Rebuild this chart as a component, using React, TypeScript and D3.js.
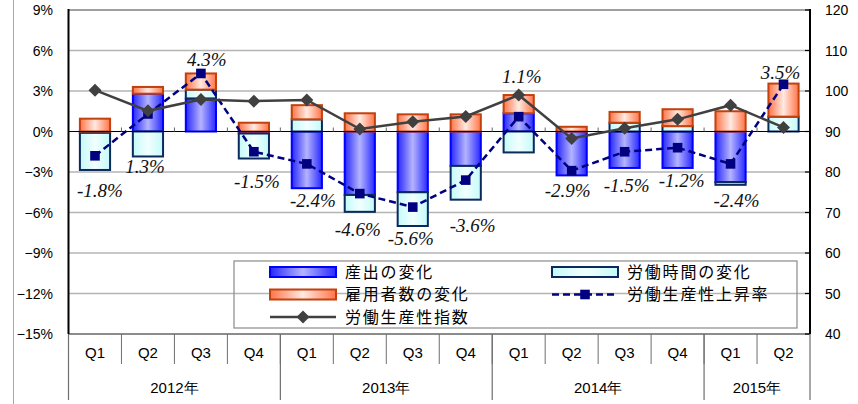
import React from "react";
import * as d3 from "d3";

// ---- data ----
const quarters = ["Q1", "Q2", "Q3", "Q4", "Q1", "Q2", "Q3", "Q4", "Q1", "Q2", "Q3", "Q4", "Q1", "Q2"];
const years = ["2012年", "2013年", "2014年", "2015年"];
const quartersPerYear = [4, 4, 4, 2];

const outputChange = [-0.1, 2.8, 2.45, -0.15, -4.2, -4.7, -4.5, -2.55, 1.35, -3.25, -2.7, -2.7, -3.75, 0];
const hoursChange = [-2.75, -1.85, 0.65, -1.85, 0.9, -1.25, -2.5, -2.5, -1.55, 0, 0.65, 0.4, -0.2, 1.1];
const employeesChange = [0.95, 0.5, 1.2, 0.65, 1.05, 1.35, 1.27, 1.27, 1.35, 0.35, 0.8, 1.25, 1.5, 2.45];
const productivityRate = [-1.8, 1.3, 4.3, -1.5, -2.4, -4.6, -5.6, -3.6, 1.1, -2.9, -1.5, -1.2, -2.4, 3.5];
const productivityIndex = [100.2, 95.1, 97.9, 97.5, 97.8, 90.6, 92.4, 93.7, 99.0, 88.3, 90.8, 93.0, 96.5, 91.0];

const leftTicks = [-15, -12, -9, -6, -3, 0, 3, 6, 9];
const rightTicks = [40, 50, 60, 70, 80, 90, 100, 110, 120];

// label placement (layout only): dx from category centre, dy from marker to baseline
const labelOffsets = [
  [5, 41], [-3, 59], [6, -7], [3, 36], [6, 43], [-2, 42], [-2, 38],
  [7, 52], [3, -34], [-4, 26], [2, 40], [4, 39], [6, 43], [-3, -5],
];

const legendNames = {
  output: "産出の変化",
  hours: "労働時間の変化",
  employees: "雇用者数の変化",
  rate: "労働生産性上昇率",
  index: "労働生産性指数",
};

export default function App() {
  const W = 858, H = 404;
  const L = 68.5, R = 810, T = 10, B = 334;
  const qRowB = 364, yearB = 400;
  const n = quarters.length;

  const x = d3.scaleBand<number>().domain(d3.range(n)).range([L, R]).paddingInner(0.43).paddingOuter(0.215);
  const step = x.step();
  const cx = (i: number) => (x(i) as number) + x.bandwidth() / 2;
  const yL = d3.scaleLinear().domain([-15, 9]).range([B, T]);
  const yR = d3.scaleLinear().domain([40, 120]).range([B, T]);
  const pctFmt = d3.format("d");

  const series = [
    { key: "output", values: outputChange, fill: "url(#gBlue)", stroke: "#0000ff" },
    { key: "hours", values: hoursChange, fill: "url(#gCyan)", stroke: "#0a2a5e" },
    { key: "employees", values: employeesChange, fill: "url(#gOrange)", stroke: "#c2410c" },
  ];

  const rects: any[] = [];
  for (let i = 0; i < n; i++) {
    let pos = 0, neg = 0;
    series.forEach((s) => {
      const v = s.values[i];
      if (v === 0) return;
      let a, b;
      if (v > 0) { a = pos; b = pos + v; pos = b; } else { a = neg; b = neg + v; neg = b; }
      rects.push({ i, key: s.key, y0: yL(Math.max(a, b)), y1: yL(Math.min(a, b)), fill: s.fill, stroke: s.stroke });
    });
  }

  const rateLine = d3.line<number>().x((_, i) => cx(i)).y((d) => yL(d))(productivityRate) as string;
  const indexLine = d3.line<number>().x((_, i) => cx(i)).y((d) => yR(d))(productivityIndex) as string;

  const diamond = (px: number, py: number, r: number) => `M${px},${py - r}L${px + r},${py}L${px},${py + r}L${px - r},${py}Z`;

  // year boundaries
  const yearStarts: number[] = [];
  let acc = 0;
  quartersPerYear.forEach((q) => { yearStarts.push(acc); acc += q; });
  const boundaryX = (k: number) => L + step * k;

  const axisFont = "'Liberation Sans', Arial, sans-serif";
  const jpFont = "'Noto Sans CJK JP', sans-serif";

  // legend layout
  const lg = { x0: 234, y0: 261, x1: 797, y1: 328 };
  const col = [270, 552];
  const rows = [272, 294.5, 317];
  const symW = 66;

  return (
    <svg width={W} height={H} style={{ position: "absolute", left: 0, top: 0, background: "#fff" }}>
      <defs>
        <linearGradient id="gBlue" x1="0" x2="1" y1="0" y2="0">
          <stop offset="0" stopColor="#2828ff" />
          <stop offset="0.5" stopColor="#b4b4ff" />
          <stop offset="1" stopColor="#2828ff" />
        </linearGradient>
        <linearGradient id="gCyan" x1="0" x2="1" y1="0" y2="0">
          <stop offset="0" stopColor="#c4fafa" />
          <stop offset="0.5" stopColor="#f2ffff" />
          <stop offset="1" stopColor="#c4fafa" />
        </linearGradient>
        <linearGradient id="gOrange" x1="0" x2="1" y1="0" y2="0">
          <stop offset="0" stopColor="#ff7448" />
          <stop offset="0.5" stopColor="#ffeae2" />
          <stop offset="1" stopColor="#ff7448" />
        </linearGradient>
      </defs>

      {/* outer left border */}
      <line x1={13.5} x2={13.5} y1={0} y2={H} stroke="#a8a8a8" strokeWidth={1} />

      {/* gridlines */}
      {leftTicks.filter((t) => t !== 0 && t !== -15 && t !== 9).map((t) => (
        <line key={t} x1={L} x2={R} y1={yL(t)} y2={yL(t)} stroke="#b4b4b4" strokeWidth={1.5} />
      ))}
      <line x1={L} x2={R} y1={T} y2={T} stroke="#a0a0a0" strokeWidth={2} />
      <line x1={L} x2={R} y1={B} y2={B} stroke="#8c8c8c" strokeWidth={2} />

      {/* bars */}
      {rects.map((r, k) => (
        <rect key={k} x={x(r.i)} y={r.y0} width={x.bandwidth()} height={Math.max(0.5, r.y1 - r.y0)}
          fill={r.fill} stroke={r.stroke} strokeWidth={2} />
      ))}

      {/* zero line and category ticks */}
      <line x1={L} x2={R} y1={yL(0)} y2={yL(0)} stroke="#000" strokeWidth={1.2} />
      {d3.range(1, n).map((k) => (
        <line key={k} x1={boundaryX(k)} x2={boundaryX(k)} y1={yL(0) - 4} y2={yL(0)} stroke="#666" strokeWidth={1} />
      ))}

      {/* axes */}
      <line x1={L} x2={L} y1={T - 1} y2={B} stroke="#000" strokeWidth={2} />
      <line x1={R} x2={R} y1={T - 1} y2={B} stroke="#000" strokeWidth={2} />
      {rightTicks.map((t) => (
        <line key={t} x1={R - 5} x2={R} y1={yR(t)} y2={yR(t)} stroke="#000" strokeWidth={1.2} />
      ))}
      {leftTicks.map((t) => (
        <text key={t} x={53} y={yL(t)} dy="0.36em" textAnchor="end" fontFamily={axisFont} fontSize={14} fill="#000">
          {pctFmt(t)}%
        </text>
      ))}
      {rightTicks.map((t) => (
        <text key={t} x={825} y={yR(t)} dy="0.36em" textAnchor="start" fontFamily={axisFont} fontSize={14} fill="#000">
          {t}
        </text>
      ))}

      {/* category axis */}
      {d3.range(1, n).map((k) => (
        <line key={k} x1={boundaryX(k)} x2={boundaryX(k)} y1={B} y2={qRowB} stroke="#6e6e6e" strokeWidth={1} />
      ))}
      {[...yearStarts, n].map((k) => (
        <line key={"y" + k} x1={boundaryX(k)} x2={boundaryX(k)} y1={B} y2={yearB} stroke="#6e6e6e" strokeWidth={1.2} />
      ))}
      {quarters.map((q, i) => (
        <text key={i} x={cx(i)} y={353} dy="0.36em" textAnchor="middle" fontFamily={axisFont} fontSize={15} fill="#000">{q}</text>
      ))}
      {years.map((yl, j) => (
        <text key={yl} x={(boundaryX(yearStarts[j]) + boundaryX(yearStarts[j] + quartersPerYear[j])) / 2} y={388} dy="0.36em"
          textAnchor="middle" fontFamily={axisFont} fontSize={15} fill="#000">{yl}</text>
      ))}

      {/* productivity rate line */}
      <path d={rateLine} fill="none" stroke="#000080" strokeWidth={2.5} strokeDasharray="7,4" />
      {productivityRate.map((v, i) => (
        <rect key={i} x={cx(i) - 4.8} y={yL(v) - 4.8} width={9.6} height={9.6} fill="#000080" />
      ))}

      {/* productivity index line */}
      <path d={indexLine} fill="none" stroke="#404040" strokeWidth={2.5} />
      {productivityIndex.map((v, i) => (
        <path key={i} d={diamond(cx(i), yR(v), 6.5)} fill="#404040" />
      ))}

      {/* rate labels */}
      {productivityRate.map((v, i) => (
        <text key={i} x={cx(i) + labelOffsets[i][0]} y={yL(v) + labelOffsets[i][1]} textAnchor="middle"
          fontFamily="'Liberation Serif', 'Times New Roman', serif" fontStyle="italic" fontSize={19} fill="#111">
          {v.toFixed(1)}%
        </text>
      ))}

      {/* legend */}
      <rect x={lg.x0} y={lg.y0} width={lg.x1 - lg.x0} height={lg.y1 - lg.y0} fill="none" stroke="#8a8a8a" strokeWidth={1.2} />
      <rect x={col[0]} y={rows[0] - 5} width={symW} height={10} fill="url(#gBlue)" stroke="#0000ff" strokeWidth={2} />
      <rect x={col[1]} y={rows[0] - 5} width={symW} height={10} fill="url(#gCyan)" stroke="#0a2a5e" strokeWidth={2} />
      <rect x={col[0]} y={rows[1] - 5} width={symW} height={10} fill="url(#gOrange)" stroke="#c2410c" strokeWidth={2} />
      <line x1={col[1]} x2={col[1] + symW} y1={rows[1]} y2={rows[1]} stroke="#000080" strokeWidth={2.5} strokeDasharray="7,4" />
      <rect x={col[1] + symW / 2 - 4.8} y={rows[1] - 4.8} width={9.6} height={9.6} fill="#000080" />
      <line x1={col[0]} x2={col[0] + symW} y1={rows[2]} y2={rows[2]} stroke="#404040" strokeWidth={2.5} />
      <path d={diamond(col[0] + symW / 2, rows[2], 6.5)} fill="#404040" />
      {[
        [legendNames.output, col[0], rows[0]],
        [legendNames.hours, col[1], rows[0]],
        [legendNames.employees, col[0], rows[1]],
        [legendNames.rate, col[1], rows[1]],
        [legendNames.index, col[0], rows[2]],
      ].map(([t, lx, ly]) => (
        <text key={t as string} x={(lx as number) + symW + 9} y={ly as number} dy="0.36em" fontFamily={jpFont}
          fontSize={16} letterSpacing={1.8} fill="#000">{t}</text>
      ))}
    </svg>
  );
}
